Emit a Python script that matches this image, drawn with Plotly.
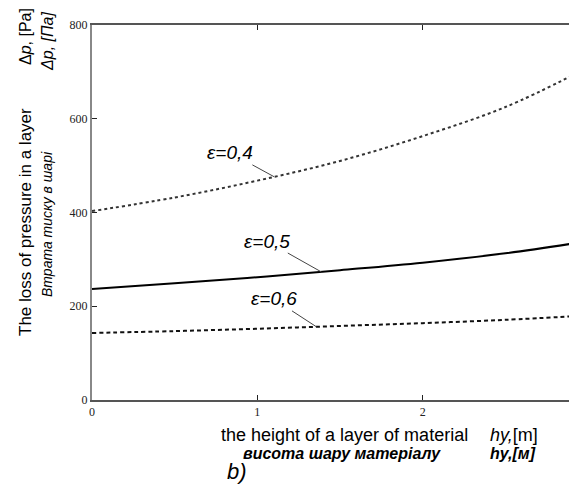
import plotly.graph_objects as go

# Data
x_vals = [0, 0.5, 1.0, 1.5, 2.0, 2.5, 2.93]
dp_eps04 = [403, 432, 468, 510, 563, 625, 697]
dp_eps05 = [237, 249, 262, 277, 293, 313, 335]
dp_eps06 = [143, 147, 152, 158, 164, 171, 179]
x_ticks = [0, 1, 2]
y_ticks = [0, 200, 400, 600, 800]

OFF = 8  # page body margin
W, H = 577 - OFF, 492 - OFF
L, R, T, B = 92 - OFF, 0, 25 - OFF, 92
PW, PH = W - L - R, H - T - B


def px(xp, yp):
    # page pixel -> paper coordinates
    return (xp - OFF - L) / PW, (H - B - (yp - OFF)) / PH


fig = go.Figure()
fig.add_trace(go.Scatter(x=x_vals, y=dp_eps04, mode="lines", line=dict(color="#333", width=2, dash="dot"), line_shape="spline", showlegend=False))
fig.add_trace(go.Scatter(x=x_vals, y=dp_eps05, mode="lines", line=dict(color="#000", width=2), line_shape="spline", showlegend=False))
fig.add_trace(go.Scatter(x=x_vals, y=dp_eps06, mode="lines", line=dict(color="#111", width=2, dash="4px,3px"), line_shape="spline", showlegend=False))

ann_font = dict(family="Liberation Sans", size=19, color="#000")
curve_labels = [
    ("<i>ε=0,4</i>", 1.103, 476, -44, -24),
    ("<i>ε=0,5</i>", 1.388, 273, -55, -31),
    ("<i>ε=0,6</i>", 1.358, 156, -43, -28),
]
annotations = []
for txt, xa, ya, ax, ay in curve_labels:
    annotations.append(dict(x=xa, y=ya, xref="x", yref="y", text=txt, showarrow=True,
                            arrowhead=0, arrowwidth=1, arrowcolor="#444", ax=ax, ay=ay, font=ann_font))


def txt_ann(text, xp, yp, size, angle=0, family="Liberation Sans", xanchor="center"):
    xx, yy = px(xp, yp)
    annotations.append(dict(x=xx, y=yy, xref="paper", yref="paper", text=text, showarrow=False,
                            textangle=angle, xanchor=xanchor, yanchor="middle",
                            font=dict(family=family, size=size, color="#000")))


txt_ann("The loss of pressure in a layer", 25, 222, 17, -90)
txt_ann("<i>Втрата тиску в шарі</i>", 47, 224, 14, -90)
txt_ann("Δ<i>p</i>, [Pa]", 25, 37, 16, -90)
txt_ann("<i>Δp, [Па]</i>", 47, 42, 16, -90)
txt_ann("the height of a layer of material", 344, 435, 18)
txt_ann("<b><i>висота шару матеріалу</i></b>", 342, 453, 16)
txt_ann("<i>hy,</i>[m]", 488, 435, 18, xanchor="left")
txt_ann("<b><i>hy,[м]</i></b>", 488, 453, 16, xanchor="left")
txt_ann("<i>b)</i>", 237, 471, 22)

tick_font = dict(family="Liberation Serif", size=12, color="#222")
fig.update_layout(
    width=W, height=H,
    margin=dict(l=L, r=R, t=T, b=B, autoexpand=False),
    paper_bgcolor="white", plot_bgcolor="white",
    annotations=annotations,
    xaxis=dict(range=[0, 2.933], tickvals=x_ticks, ticks="inside", ticklen=5, tickcolor="#222",
               showline=True, linecolor="#555", linewidth=2, mirror="ticks", showgrid=False,
               zeroline=False, tickfont=tick_font, automargin=False),
    yaxis=dict(range=[0, 800], tickvals=y_ticks, ticks="inside", ticklen=5, tickcolor="#222",
               showline=True, linecolor="#888", linewidth=2, showgrid=False, zeroline=False,
               tickfont=tick_font, automargin=False),
)
fig.write_html("out.html")
